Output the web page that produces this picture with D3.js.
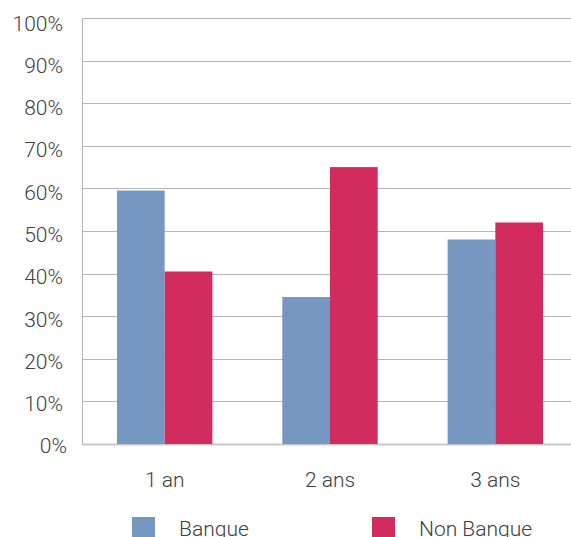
<!DOCTYPE html>
<html><head><meta charset="utf-8">
<script src="https://cdn.jsdelivr.net/npm/d3@7"></script>
<style>body{margin:0;background:#fff}svg{display:block}text{font-family:Roboto,"Open Sans",sans-serif;font-weight:300;fill:#404040}</style>
</head><body><svg id="c" width="571" height="537"></svg>
<script>
const categories = ["1 an", "2 ans", "3 ans"];
const seriesNames = ["Banque", "Non Banque"];
const banque = [59.5, 34.5, 48];
const nonBanque = [40.5, 65, 52];
const yTicks = [0,10,20,30,40,50,60,70,80,90,100];
const colors = ["#7597c2", "#d22b5e"];

const svg = d3.select("#c");
const y = d3.scaleLinear().domain([0,100]).range([444,18]);
const yLab = d3.scaleLinear().domain([0,100]).range([446,23.3]);
const x = d3.scaleBand().domain(categories).range([82,578]).paddingInner(0.423).paddingOuter(0.2115);
const xi = d3.scaleBand().domain(seriesNames).range([0, x.bandwidth()]);

// gridlines
svg.append("g").selectAll("line").data(yTicks).join("line")
  .attr("x1",82).attr("x2",571).attr("y1",d=>Math.round(y(d))+0.5).attr("y2",d=>Math.round(y(d))+0.5)
  .attr("stroke",d=>d===0?"#c8c8c8":"#b5b5b5").attr("stroke-width",d=>d===0?2:1);
svg.append("line").attr("x1",82.5).attr("x2",82.5).attr("y1",y(100)).attr("y2",y(0)+1)
  .attr("stroke","#b5b5b5").attr("stroke-width",1);

// y labels
svg.append("g").selectAll("text").data(yTicks).join("text")
  .attr("x",d=>d===0?67:63).attr("y",d=>yLab(d)).attr("dy","0.35em").attr("text-anchor","end")
  .attr("font-size",21).text(d=>d+"%");

// bars
const data = categories.map((c,i)=>({c, vals:[banque[i], nonBanque[i]]}));
const g = svg.append("g").selectAll("g").data(data).join("g").attr("transform",d=>`translate(${x(d.c)},0)`);
g.selectAll("rect").data(d=>d.vals.map((v,j)=>({s:seriesNames[j],v,j}))).join("rect")
  .attr("x",d=>xi(d.s)).attr("width",xi.bandwidth()).attr("y",d=>y(d.v)).attr("height",d=>y(0)-y(d.v))
  .attr("fill",d=>colors[d.j]);

// x labels
svg.append("g").selectAll("text").data(categories).join("text")
  .attr("x",d=>x(d)+x.bandwidth()/2).attr("y",487).attr("text-anchor","middle")
  .attr("font-size",21).text(d=>d);

// legend
const legX = [132, 372];
const lg = svg.append("g").selectAll("g").data(seriesNames).join("g")
  .attr("transform",(d,i)=>`translate(${legX[i]},517)`);
lg.append("rect").attr("width",23).attr("height",23).attr("fill",(d,i)=>colors[i]);
lg.append("text").attr("x",47).attr("y",19).attr("font-size",21).text(d=>d);
</script></body></html>
